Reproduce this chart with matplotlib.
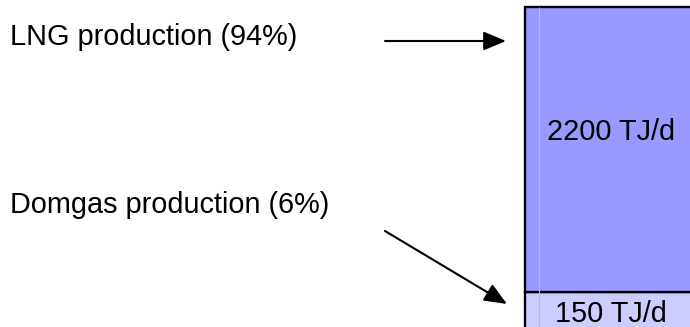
import numpy as np
import matplotlib
matplotlib.use("Agg")
import matplotlib.pyplot as plt
from matplotlib.transforms import blended_transform_factory

# ==========================================
# DATA
# ==========================================

segments = ["Domgas production", "LNG production"]
flows_tj_per_day = [150, 2200]
shares_pct = [6, 94]
segment_colors = ["#CCCCFF", "#9999FF"]

total = sum(flows_tj_per_day)

plt.rcParams["font.family"] = ["Liberation Sans", "DejaVu Sans"]

W, H = 690, 327
fig = plt.figure(figsize=(W / 100, H / 100), dpi=100)

# axes run 2 px below the figure so the bar's base edge is hidden
ax = fig.add_axes([0, -2 / H, 1, (H + 2) / H])

# compressed power scale for the bar height
p = 0.79
ax.set_yscale("function",
              functions=(lambda y: np.sign(y) * np.abs(y) ** p,
                         lambda t: np.sign(t) * np.abs(t) ** (1 / p)))

# ==========================================
# STACKED BAR
# ==========================================

bottom = 0
for value, color in zip(flows_tj_per_day, segment_colors):
    ax.bar(0, value, width=1, bottom=bottom, color=color,
           edgecolor="black", linewidth=1.7, zorder=2)
    bottom += value

# light highlight stripe near the left edge
ax.vlines(-0.5 + 0.08, 0, total, color="#B6B6FF", linewidth=0.8, zorder=3)

ax.set_xlim(-611 / 172, 79 / 172)
ax.set_ylim(0, (total ** p * (H + 2) / 322) ** (1 / p))
ax.axis("off")

# ==========================================
# LABELS AND ARROWS
# ==========================================

fs = 20.8
trans = blended_transform_factory(ax.transData, fig.transFigure)

ax.text(0, 1 - 140 / H, f"{flows_tj_per_day[1]} TJ/d", transform=trans,
        ha="center", va="baseline", fontsize=fs, zorder=4)
ax.text(0, 1 - 322 / H, f"{flows_tj_per_day[0]} TJ/d", transform=trans,
        ha="center", va="baseline", fontsize=fs, zorder=4)

fig.text(10 / W, 1 - 45 / H, f"{segments[1]} ({shares_pct[1]}%)",
         ha="left", va="baseline", fontsize=fs)
fig.text(10 / W, 1 - 213 / H, f"{segments[0]} ({shares_pct[0]}%)",
         ha="left", va="baseline", fontsize=fs)

arrow = dict(arrowstyle="-|>,head_length=0.55,head_width=0.23",
             mutation_scale=25, color="black", linewidth=1.5,
             shrinkA=0, shrinkB=0)

ax.annotate("", xy=(506, H - 41), xytext=(385, H - 41),
            xycoords="figure pixels", textcoords="figure pixels",
            arrowprops=arrow)
ax.annotate("", xy=(507, H - 304), xytext=(385, H - 231),
            xycoords="figure pixels", textcoords="figure pixels",
            arrowprops=arrow)

plt.savefig("out.png", dpi=100)
plt.close()
